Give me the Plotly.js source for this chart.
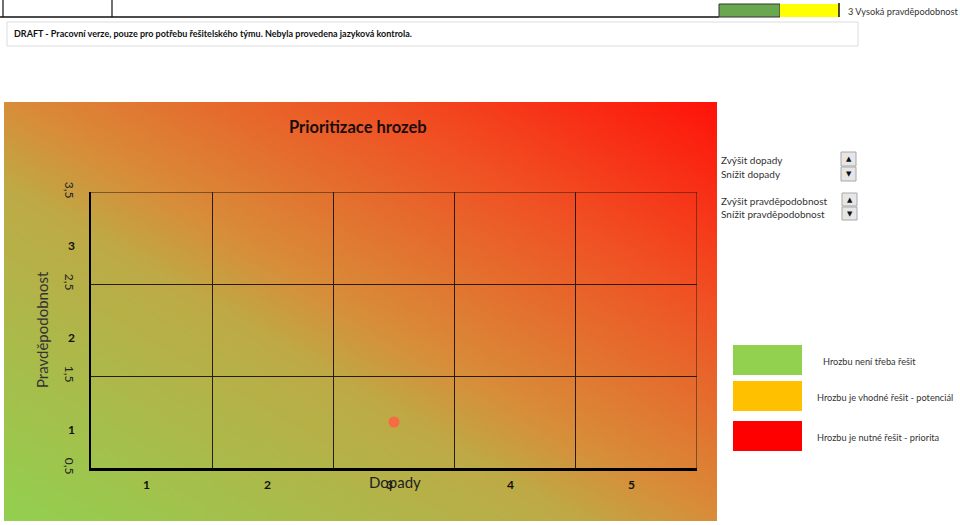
<!DOCTYPE html>
<html>
<head>
<meta charset="utf-8">
<script src="https://cdn.plot.ly/plotly-3.0.1.min.js"></script>
<style>html,body{margin:0;padding:0;background:#fff;}#chart{width:960px;height:525px;}</style>
</head>
<body>
<div id="chart"></div>
<script>
// ---- data ----
const impactLabels = ['1', '2', '3', '4', '5'];
const impactValues = [1, 2, 3, 4, 5];
const probabilityLabels = ['1', '2', '3'];
const probabilityValues = [1, 2, 3];
const yTickVals = [0.5, 1.5, 2.5, 3.5];
const yTickText = ['0,5', '1,5', '2,5', '3,5'];
const xGridVals = [1.5, 2.5, 3.5, 4.5, 5.5];
const threatImpact = [3];
const threatProbability = [1];
const chartTitle = 'Prioritizace hrozeb';
const xTitle = 'Dopady';
const yTitle = 'Pravděpodobnost';
const controlTexts = ['Zvýšit dopady', 'Snížit dopady', 'Zvýšit pravděpodobnost', 'Snížit pravděpodobnost'];
const legendTexts = ['Hrozbu není třeba řešit', 'Hrozbu je vhodné řešit - potenciál', 'Hrozbu je nutné řešit - priorita'];
const legendColors = ['#92d050', '#ffc000', '#ff0000'];
const draftText = 'DRAFT - Pracovní verze, pouze pro potřebu řešitelského týmu. Nebyla provedena jazyková kontrola.';
const headerText = '3 Vysoká pravděpodobnost';

// ---- layout helpers (pixel -> paper) ----
const M = {l: 91, r: 263, t: 192, b: 57};
const PW = 960 - M.l - M.r, PH = 525 - M.t - M.b;
const px = x => (x - M.l) / PW;
const py = y => (525 - M.b - y) / PH;
const FONT = 'Lato, "Open Sans", sans-serif';
const GRID = '#2a1a10';

// gradient background image
const cv = document.createElement('canvas');
cv.width = 256; cv.height = 256;
const ctx = cv.getContext('2d');
const g = ctx.createLinearGradient(0, 256, 256, 0);
g.addColorStop(0, 'rgb(146,208,80)');
g.addColorStop(0.4, 'rgb(190,170,70)');
g.addColorStop(0.5, 'rgb(216,141,57)');
g.addColorStop(0.75, 'rgb(240,82,36)');
g.addColorStop(1, 'rgb(255,18,10)');
ctx.fillStyle = g; ctx.fillRect(0, 0, 256, 256);
const gradURL = cv.toDataURL('image/png');

const shapes = [];
const annotations = [];

function rectPx(x0, y0, x1, y1, fill, line, lw) {
  shapes.push({type: 'rect', xref: 'paper', yref: 'paper', x0: px(x0), x1: px(x1), y0: py(y1), y1: py(y0),
    fillcolor: fill, line: {color: line || 'rgba(0,0,0,0)', width: lw || 0}});
}
function linePx(x0, y0, x1, y1, color, w) {
  shapes.push({type: 'line', xref: 'paper', yref: 'paper', x0: px(x0), x1: px(x1), y0: py(y0), y1: py(y1),
    line: {color: color, width: w}});
}
function textPx(x, y, text, opts) {
  opts = opts || {};
  annotations.push(Object.assign({xref: 'paper', yref: 'paper', x: px(x), y: py(y), text: text, showarrow: false,
    xanchor: 'left', yanchor: 'middle', font: {family: FONT, size: 10, color: '#333'}}, opts));
}

// plot-area border lines at top and right (grid edges)
shapes.push({type: 'line', xref: 'x', yref: 'y', x0: 0.5, x1: 5.5, y0: 3.5, y1: 3.5, line: {color: GRID, width: 1}});
shapes.push({type: 'line', xref: 'x', yref: 'y', x0: 5.5, x1: 5.5, y0: 0.5, y1: 3.5, line: {color: GRID, width: 1}});

// header (spreadsheet cells)
linePx(0, 17, 719, 17, '#111', 1.5);
linePx(3, 0, 3, 17, '#111', 1.2);
linePx(112, 0, 112, 17, '#111', 1.2);
rectPx(719, 4, 780, 17, '#6aa84f', '#333', 1);
rectPx(780, 4, 839, 17, '#ffff00');
linePx(839, 3, 839, 17, '#111', 1.5);
textPx(959, 11, headerText, {xanchor: 'right', borderpad: 0, font: {family: FONT, size: 9.2, color: '#333'}});
rectPx(7, 22, 858, 46, '#ffffff', '#dcdcdc', 1);
textPx(12, 34, draftText, {font: {family: FONT, size: 9, color: '#111', weight: 'bold'}});

// title & axis titles
textPx(358, 127, chartTitle, {xanchor: 'center', font: {family: FONT, size: 16.5, color: '#1a0c0c', weight: 'bold'}});
textPx(42, 330, yTitle, {xanchor: 'center', textangle: -90, font: {family: FONT, size: 15, color: '#333'}});

// category labels (bold) built from arrays
probabilityValues.forEach((v, i) => {
  annotations.push({xref: 'paper', yref: 'y', x: px(71), y: v, yshift: -7, text: probabilityLabels[i], showarrow: false,
    xanchor: 'center', yanchor: 'middle', font: {family: FONT, size: 12, color: '#111', weight: 'bold'}});
});
impactValues.forEach((v, i) => {
  annotations.push({xref: 'x', yref: 'paper', x: v, xshift: -5, y: py(484), text: impactLabels[i], showarrow: false,
    xanchor: 'center', yanchor: 'middle', font: {family: FONT, size: 12, color: '#111', weight: 'bold'}});
});
textPx(395, 482, xTitle, {xanchor: 'center', font: {family: FONT, size: 15, color: '#222'}});

// controls
textPx(719, 160, controlTexts[0]);
textPx(719, 174, controlTexts[1]);
textPx(719, 201, controlTexts[2]);
textPx(719, 214, controlTexts[3]);
[[841, 152, 856, 166, '▲'], [841, 167, 856, 181, '▼'], [842, 193, 857, 206, '▲'], [842, 207, 857, 220, '▼']].forEach(b => {
  rectPx(b[0], b[1], b[2], b[3], '#e6e6e6', '#a8a8a8', 1);
  textPx((b[0] + b[2]) / 2, (b[1] + b[3]) / 2, b[4], {xanchor: 'center', font: {family: 'DejaVu Sans', size: 7, color: '#111'}});
});

// color legend
const legY = [[345, 375], [381, 411], [421, 451]];
const legTextX = [821, 815, 815];
legendColors.forEach((c, i) => {
  rectPx(733, legY[i][0], 802, legY[i][1], c);
  textPx(legTextX[i], (legY[i][0] + legY[i][1]) / 2 + 1, legendTexts[i], {font: {family: FONT, size: 9.2, color: '#333'}});
});

const traces = [{
  type: 'scatter', mode: 'markers', x: threatImpact, y: threatProbability,
  marker: {size: 11, color: 'rgb(246,108,66)', line: {width: 0}},
  hoverinfo: 'x+y', showlegend: false, cliponaxis: false
}];

const layout = {
  width: 960, height: 525,
  margin: M,
  paper_bgcolor: '#ffffff', plot_bgcolor: 'rgba(0,0,0,0)',
  showlegend: false,
  font: {family: FONT, color: '#222'},
  xaxis: {range: [0.5, 5.5], tickmode: 'array', tickvals: xGridVals, showticklabels: false, ticks: '',
    showgrid: true, gridcolor: GRID, gridwidth: 1, zeroline: false,
    showline: true, linecolor: '#000', linewidth: 2.5, fixedrange: true},
  yaxis: {range: [0.5, 3.5], tickmode: 'array', tickvals: yTickVals, ticktext: yTickText, tickangle: 90,
    ticks: '', ticklabelstandoff: 9, tickfont: {family: FONT, size: 12, color: '#222'},
    showgrid: true, gridcolor: GRID, gridwidth: 1, zeroline: false,
    showline: true, linecolor: '#000', linewidth: 2.5, fixedrange: true},
  images: [{source: gradURL, xref: 'paper', yref: 'paper', x: px(4), y: py(102),
    sizex: (717 - 4) / PW, sizey: (521 - 102) / PH, sizing: 'stretch', xanchor: 'left', yanchor: 'top', layer: 'below'}],
  shapes: shapes,
  annotations: annotations
};

Plotly.newPlot('chart', traces, layout, {displayModeBar: false, staticPlot: true});
</script>
</body>
</html>
